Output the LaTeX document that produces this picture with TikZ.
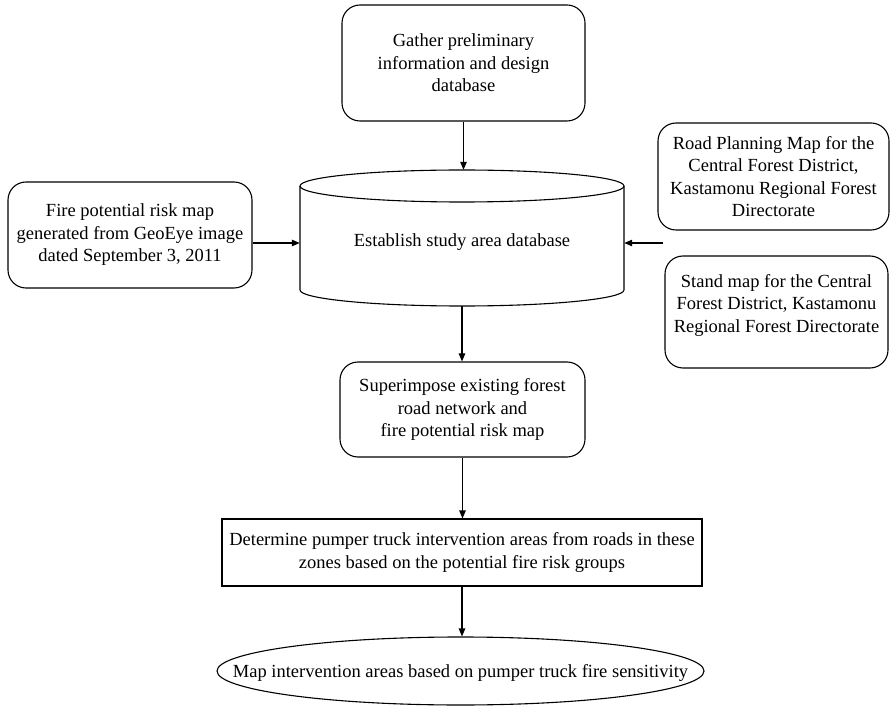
\documentclass[tikz,border=0pt]{standalone}
\usepackage{fontspec}
\setmainfont{Liberation Serif}
\usetikzlibrary{shapes.geometric,arrows.meta}
\begin{document}
\begin{tikzpicture}[x=1pt,y=1pt,
  every node/.style={font=\fontsize{18.5}{22.5}\selectfont, align=center, inner sep=0pt},
  rbox/.style={draw, line width=1.1pt, rounded corners=18pt},
  sbox/.style={draw, line width=1.1pt},
  ln/.style={line width=1.1pt},
  arr/.style={line width=1.1pt, -{Triangle[length=8pt,width=6.5pt]}}]
\useasboundingbox (0,0) rectangle (891,705);

% top box
\node[rbox, minimum width=243pt, minimum height=116pt] (gather) at (463.5,642)
  {Gather preliminary\\information and design\\database};

% cylinder
\node[minimum width=324pt, minimum height=136pt] (db) at (462,467) {};
\draw[ln] (462,519) ellipse [x radius=162, y radius=16];
\draw[ln] (300,519) -- (300,415) arc[start angle=180, end angle=360, x radius=162, y radius=16] -- (624,519);
\node (dbt) at (462,463) {Establish study area database};

% left box
\node[rbox, minimum width=244pt, minimum height=106pt] (lbox) at (130,470)
  {Fire potential risk map\\generated from GeoEye image\\dated September 3, 2011};

% right boxes
\node[rbox, minimum width=231pt, minimum height=107pt] (rb1) at (773.5,528.5)
  {Road Planning Map for the\\Central Forest District,\\Kastamonu Regional Forest\\Directorate};
\node[rbox, minimum width=223pt, minimum height=112pt] (rb2) at (776.5,393) {};
\node (rb2t) at (776.5,400)
  {Stand map for the Central\\Forest District, Kastamonu\\Regional Forest Directorate};

% superimpose
\node[rbox, minimum width=245pt, minimum height=95pt] (sup) at (462.5,295.5)
  {Superimpose existing forest\\road network and\\fire potential risk map};

% determine
\node[sbox, minimum width=480pt, minimum height=67pt] (det) at (462,152.5)
  {Determine pumper truck intervention areas from roads in these\\zones based on the potential fire risk groups};

% final ellipse
\node[ellipse, draw, line width=1.1pt, minimum width=487pt, minimum height=68pt] (ell) at (460.5,34) {};
\node (ellt) at (460.5,32) {Map intervention areas based on pumper truck fire sensitivity};

% connectors
\coordinate (ya) at (0,462);
\coordinate (rin) at (663,462);
\draw[arr] (gather.south) -- (gather.south |- db.north);
\draw[arr] (lbox.east |- ya) -- (db.west |- ya);
\draw[arr] (rin) -- (db.east |- rin);
\draw[arr] (db.south) -- (db.south |- sup.north);
\draw[arr] (sup.south) -- (sup.south |- det.north);
\draw[arr] (det.south) -- (det.south |- ell.north);
\end{tikzpicture}
\end{document}
